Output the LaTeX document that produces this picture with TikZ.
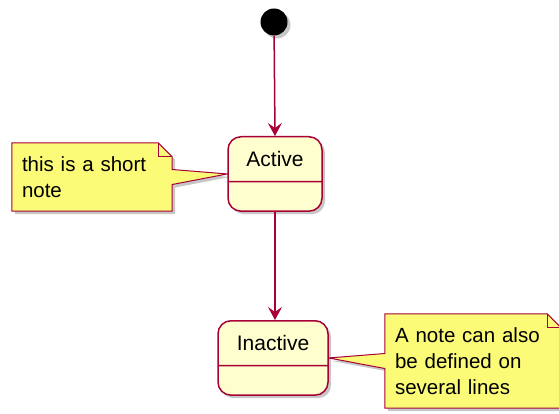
\documentclass[tikz,border=0pt]{standalone}
\usepackage{fontspec}
\setmainfont{Liberation Sans}
\usetikzlibrary{arrows.meta,positioning,shapes.multipart,shadows,backgrounds}
\definecolor{umlred}{HTML}{A80036}
\definecolor{statefill}{HTML}{FEFECE}
\definecolor{notefill}{HTML}{FBFB77}
\begin{document}
\begin{tikzpicture}[x=1pt,y=-1pt,
  umlshadow/.style={drop shadow={shadow xshift=3pt,shadow yshift=-3pt,opacity=0.22,fill=black}},
  state/.style={rectangle split,rectangle split parts=2,draw=umlred,fill=statefill,line width=1.5pt,
    rounded corners=13pt,font=\fontsize{21}{25}\selectfont,align=center,inner xsep=10pt,inner ysep=14pt,
    rectangle split empty part height=8pt,rectangle split empty part depth=0pt,umlshadow},
  startdot/.style={circle,fill=black,minimum size=27pt,inner sep=0pt,umlshadow},
  notebox/.style={font=\fontsize{20.5}{26}\selectfont,align=left,inner xsep=10pt,inner ysep=0pt},
  noteline/.style={draw=umlred,fill=notefill,line width=1pt,umlshadow},
  arrow/.style={-{Stealth[length=13pt,width=14pt,inset=5pt]},line width=1.5pt,draw=umlred}
]
\useasboundingbox (0,0) rectangle (559,414);
\node[startdot] (start) at (274,22) {};
\node[state,text width=74pt,anchor=north] (active) at (275,136) {Active\nodepart{two}};
\node[state,text width=90pt,anchor=north] (inactive) at (273,320) {Inactive\nodepart{two}};
\node[notebox,text width=140pt,minimum height=68pt] (shortnote) at (92,177) {this is a short\\note};
\node[notebox,text width=156pt,minimum height=94pt] (longnote) at (473,361) {A note can also\\be defined on\\several lines};
% note outlines
\begin{scope}[on background layer]
\draw[noteline] (shortnote.north west) -- ([xshift=-14pt]shortnote.north east) -- ([yshift=-14pt]shortnote.north east)
  -- ([yshift=7.5pt]shortnote.east) -- (active.west) -- ([yshift=-7.5pt]shortnote.east)
  -- (shortnote.south east) -- (shortnote.south west) -- cycle;
\draw[umlred,line width=1pt] ([xshift=-14pt]shortnote.north east) -- ++(0,14) -- ++(14,0);
\draw[noteline] (longnote.north west) -- ([xshift=-14pt]longnote.north east) -- ([yshift=-14pt]longnote.north east)
  -- (longnote.south east) -- (longnote.south west) -- ([yshift=-7.5pt]longnote.west) -- (inactive.east)
  -- ([yshift=7.5pt]longnote.west) -- cycle;
\draw[umlred,line width=1pt] ([xshift=-14pt]longnote.north east) -- ++(0,14) -- ++(14,0);
\end{scope}
\draw[arrow] (start) -- (active.north);
\draw[arrow] (active.south) -- (active.south |- inactive.north);
\end{tikzpicture}
\end{document}
